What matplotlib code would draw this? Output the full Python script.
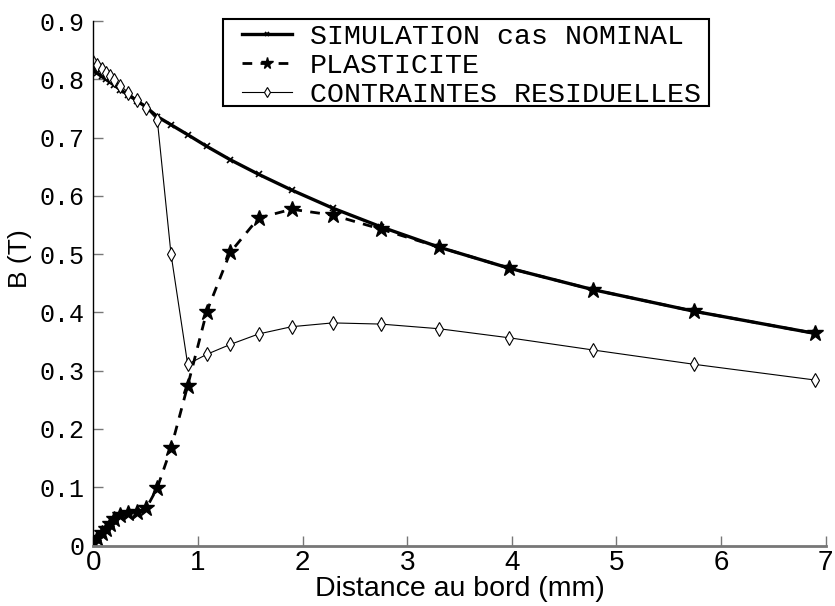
import matplotlib
matplotlib.use("Agg")
import matplotlib.pyplot as plt
from matplotlib.patches import Rectangle

x_mm = [0.0, 0.04, 0.08, 0.12, 0.16, 0.20, 0.26, 0.335, 0.42, 0.507, 0.612, 0.743,
        0.902, 1.084, 1.309, 1.58, 1.896, 2.288, 2.747, 3.304, 3.973, 4.777, 5.741, 6.897]

b_nominal = [0.815, 0.810, 0.805, 0.800, 0.795, 0.790, 0.782, 0.773, 0.763, 0.752, 0.736, 0.722,
             0.705, 0.685, 0.662, 0.637, 0.610, 0.579, 0.547, 0.512, 0.476, 0.439, 0.402, 0.364]

b_plast = [0.005, 0.013, 0.021, 0.029, 0.037, 0.046, 0.052, 0.055, 0.058, 0.064, 0.099, 0.167,
           0.274, 0.401, 0.503, 0.562, 0.577, 0.567, 0.543, 0.512, 0.476, 0.439, 0.402, 0.364]

b_resid = [0.830, 0.824, 0.818, 0.811, 0.805, 0.798, 0.789, 0.777, 0.764, 0.751, 0.730, 0.500,
           0.311, 0.328, 0.345, 0.363, 0.3755, 0.382, 0.380, 0.372, 0.3565, 0.3355, 0.311, 0.284]

labels = ["SIMULATION cas NOMINAL", "PLASTICITE", "CONTRAINTES RESIDUELLES"]
xticks = [0, 1, 2, 3, 4, 5, 6, 7]
yticks = [0, 0.1, 0.2, 0.3, 0.4, 0.5, 0.6, 0.7, 0.8, 0.9]
ytick_labels = ["0", "0.1", "0.2", "0.3", "0.4", "0.5", "0.6", "0.7", "0.8", "0.9"]

mono = "Liberation Mono"
sans = "Liberation Sans"

fig = plt.figure(figsize=(8.35, 6.06), dpi=100)
ax = fig.add_axes([0.1117, 0.0998, 0.8772, 0.8655])

ax.plot(x_mm, b_nominal, '-', color='black', lw=2.4, marker='x', ms=4, mew=1.2,
        label=labels[0])
ax.plot(x_mm, b_plast, '--', color='black', lw=2.0, marker='*', ms=12,
        mfc='black', mec='black', label=labels[1], dashes=(3.5, 3))
ax.plot(x_mm, b_resid, '-', color='black', lw=0.8, marker='d', ms=7,
        mfc='white', mec='black', mew=0.8, label=labels[2])

ax.set_xlim(0, 7)
ax.set_ylim(0, 0.9)
ax.set_xticks(xticks)
ax.set_xticklabels([str(t) for t in xticks], fontfamily=sans, fontsize=20)
ax.set_yticks(yticks)
ax.set_yticklabels(ytick_labels, fontfamily=mono, fontsize=18)

ax.spines['top'].set_visible(False)
ax.spines['right'].set_visible(False)
ax.spines['left'].set_color('black')
ax.spines['bottom'].set_color('#777777')
ax.spines['left'].set_linewidth(1.0)
ax.spines['bottom'].set_linewidth(2.0)
ax.tick_params(axis='both', direction='in', length=7, color='#777777', width=1.0)
ax.tick_params(axis='x', pad=3)
ax.tick_params(axis='y', pad=6)

ax.set_xlabel("Distance au bord (mm)", fontfamily=sans, fontsize=20.5, labelpad=0)
ax.set_ylabel("B (T)", fontfamily=sans, fontsize=19)
ax.yaxis.set_label_coords(-0.084, 0.547)

# legend box
box = Rectangle((0.1771, 0.8385), 0.8407 - 0.1771, 1.0032 - 0.8385,
                transform=ax.transAxes, fill=True, facecolor='white',
                edgecolor='black', lw=1.5, clip_on=False, zorder=5)
ax.add_patch(box)

leg = ax.legend(loc='upper left', bbox_to_anchor=(0.203, 0.994),
                prop={'family': mono, 'size': 20.3}, frameon=False,
                handlelength=1.77, handletextpad=0.65,
                labelspacing=0.1, borderpad=0, borderaxespad=0, markerscale=0.7)
leg.set_zorder(6)

fig.savefig("out.png", dpi=100)
